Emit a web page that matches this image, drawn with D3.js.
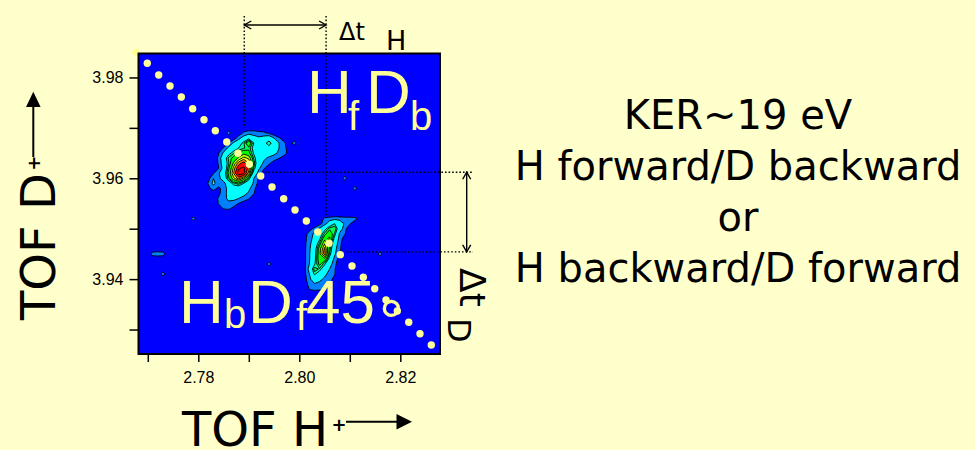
<!DOCTYPE html>
<html>
<head>
<meta charset="utf-8">
<script src="https://cdn.jsdelivr.net/npm/d3@7/dist/d3.min.js"></script>
<style>
  html, body { margin: 0; padding: 0; background: #FFFFCC; }
  svg { display: block; }
</style>
</head>
<body>
<svg id="chart" width="975" height="450"></svg>
<script>
// ---- axes ----
const xDomain = [2.76816, 2.82786];
const yDomain = [3.92515, 3.98475];
const xTicks = [2.77, 2.78, 2.79, 2.80, 2.81, 2.82];
const xTickLabels = ["", "2.78", "", "2.80", "", "2.82"];
const yTicks = [3.93, 3.94, 3.95, 3.96, 3.97, 3.98];
const yTickLabels = ["", "3.94", "", "3.96", "", "3.98"];

// ---- coincidence map, sampled on a 0.001 x 0.001 grid ----
const gridX0 = 2.768, gridY0 = 3.925, gridStep = 0.001, gridN = 61;
const levels = [1, 2, 4, 4.6, 5.2, 6.3, 7.2, 8, 9, 10.2];
const levelColors = ["#0080FF", "#00FFFF", "#00FFAA", "#00FF55", "#00FF00",
                     "#AAFF00", "#FFFF00", "#FF8000", "#FF0000", "#F40000"];

// island H forward / D backward: first column x = 2.781, first row y = 3.970 (rows go down)
const island1X0 = 2.781, island1YTop = 3.970;
const island1 = [
  [0,0,0,0,0,0,0,0,0.2,0.3,0.3,0.2,0.2,0,0,0,0,0,0],
  [0,0,0,0,0,0,0,0.3,1.2,1.5,1.5,1.3,1.2,0.8,0.2,0,0,0,0],
  [0,0,0,0,0,0,0.4,1.6,2.5,3.5,2.5,2.2,2.5,3,2,1.1,0.4,0,0],
  [0,0,0,0,0,0.95,2.2,3,4.5,6.2,4,2.6,3.5,4.6,3.2,2,1.2,0.3,0],
  [0,0,0,0.2,1.1,2.3,3.2,4,4.5,5,3.5,2.5,2.8,3.5,2.7,2,1.3,0.5,0],
  [0,0,0.2,0.9,2.2,3.5,4.5,5.5,6,5.5,3.8,2.5,2.4,2.6,2.3,1.8,1.5,0.5,0],
  [0,0,0.3,1.2,3,4.8,5.5,6.5,7.5,7,4.5,2.8,2.2,1.8,1.5,1.05,0.4,0,0],
  [0,0,0.2,1.1,2.8,4.5,6.5,8.5,9.5,8,5,2.6,1.8,1.2,0.5,0,0,0,0],
  [0,0,0.3,0.9,2.5,5,7.5,10,10.5,8.5,4.5,2.2,1.1,0.4,0,0,0,0,0],
  [0,0.1,0.9,1.8,3,5.5,8,11,10.5,7.5,3,1.5,0.4,0,0,0,0,0,0],
  [0.1,0.6,2,1.6,2.8,5,7,8.5,7,4.5,2,0.8,0,0,0,0,0,0,0],
  [0.1,1.1,2.3,1.4,1.5,3,4.5,5,4,3,1.8,0.6,0,0,0,0,0,0,0],
  [0,0.7,1.5,0.8,1.3,2.5,3,3,2.8,2.3,1.3,0.3,0,0,0,0,0,0,0],
  [0,0,0.3,0.7,1.6,2.3,2.6,2.5,2.4,1.8,1.05,0.2,0,0,0,0,0,0,0],
  [0,0,0.4,1.1,1.7,2.2,2.3,2,1.6,1.1,0.3,0,0,0,0,0,0,0,0],
  [0,0,0.2,1.05,1.5,1.8,1.5,0.95,0.5,0.2,0,0,0,0,0,0,0,0,0],
  [0,0,0,0.4,1.1,1.2,0.7,0.3,0,0,0,0,0,0,0,0,0,0,0]
];

// island H backward / D forward: first column x = 2.801, first row y = 3.952
const island2X0 = 2.801, island2YTop = 3.952;
const island2 = [
  [0,0,0,0.3,1.2,1.4,1.6,1.5,1.4,1.4,1.3,0.7],
  [0,0,0,0.6,1.5,2.8,4,3,1.8,1.1,0.4,0],
  [0,0.5,1.3,2.2,3.5,5,5.2,2.8,1.3,0.3,0,0],
  [0.4,1.5,2.2,3,4.8,6,4.5,1.8,1.1,0.2,0,0],
  [0.6,1.6,2.4,3.8,6,6.5,3.5,1.5,0.5,0,0,0],
  [0.7,1.7,2.8,4.8,7.2,5.5,2.8,1.3,0.3,0,0,0],
  [0.7,1.8,3.2,5.8,8.3,5,2.4,1.2,0.2,0,0,0],
  [0.7,1.9,3.3,6,8.5,4.5,2.2,1.1,0.2,0,0,0],
  [0.7,1.9,3.5,6,6,3.5,1.6,0.5,0,0,0,0],
  [0.7,2,3.8,5.5,4.2,2.6,1.3,0.3,0,0,0,0],
  [0.7,2.5,5,4.5,3,2,1.1,0.2,0,0,0,0],
  [0.6,2,4.2,3.2,2.3,1.6,1.05,0.1,0,0,0,0],
  [0.5,1.8,2.6,2.3,1.8,1.3,0.7,0,0,0,0,0],
  [0.3,1.4,1.9,1.7,1.4,1.1,0.3,0,0,0,0,0],
  [0,1.05,1.3,1.2,1.1,0.6,0,0,0,0,0,0]
];

// isolated single-bin events
const eventX = [2.786, 2.799, 2.779, 2.794, 2.773, 2.809, 2.811, 2.816, 2.771, 2.772, 2.773];
const eventY = [3.969, 3.967, 3.952, 3.943, 3.941, 3.960, 3.958, 3.945, 3.945, 3.945, 3.945];
const eventV = [1.6, 1.6, 1.6, 1.6, 1.6, 1.6, 1.6, 1.6, 1.6, 1.7, 1.6];

// constant total-momentum line (TOF_H + TOF_D)
const lineX = [2.76761, 2.76990, 2.77216, 2.77440, 2.77664, 2.77889, 2.78113, 2.78337, 2.78563,
               2.78786, 2.79010, 2.79236, 2.79460, 2.79691, 2.79915, 2.80139, 2.80365, 2.80588,
               2.80812, 2.81044, 2.81268, 2.81493, 2.81717, 2.81941, 2.82167, 2.82390, 2.82614];
const lineY = [3.98499, 3.98281, 3.98049, 3.97830, 3.97612, 3.97380, 3.97162, 3.96944, 3.96720,
               3.96496, 3.96278, 3.96045, 3.95827, 3.95595, 3.95371, 3.95153, 3.94935, 3.94711,
               3.94485, 3.94260, 3.94036, 3.93810, 3.93586, 3.93368, 3.93144, 3.92918, 3.92694];

// Δt markers
const markH = [2.7891, 2.8053];        // TOF H+ of the two islands
const markHEnd = [3.9702, 3.9523];     // where the vertical guides stop
const markD = [3.9612, 3.9454];        // TOF D+ of the two islands
const markDStart = [2.7932, 2.8094];   // where the horizontal guides start

const rightText = ["KER~19 eV", "H forward/D backward", "or", "H backward/D forward"];

// ---- drawing ----
const svg = d3.select("#chart");
const W = 975, H = 450;
const plot = { left: 138.5, right: 440, top: 53.5, bottom: 354 };
const pale = "#FFFF99";
const handFont = "'DejaVu Sans', sans-serif";
const axisFont = "'Liberation Sans', Arial, sans-serif";

svg.append("rect").attr("width", W).attr("height", H).attr("fill", "#FFFFCC");

const x = d3.scaleLinear().domain(xDomain).range([plot.left, plot.right]);
const y = d3.scaleLinear().domain(yDomain).range([plot.bottom, plot.top]);

svg.append("defs").append("clipPath").attr("id", "plotClip")
  .append("rect").attr("x", plot.left).attr("y", plot.top)
  .attr("width", plot.right - plot.left).attr("height", plot.bottom - plot.top);

svg.append("rect")
  .attr("x", plot.left).attr("y", plot.top)
  .attr("width", plot.right - plot.left).attr("height", plot.bottom - plot.top)
  .attr("fill", "#0000FF");

// build the full grid (row 0 = top)
const values = new Array(gridN * gridN).fill(0);
function addAt(xv, yv, v) {
  const i = Math.round((xv - gridX0) / gridStep);
  const j = Math.round((yv - gridY0) / gridStep);
  const r = gridN - 1 - j;
  if (i >= 0 && i < gridN && r >= 0 && r < gridN) values[r * gridN + i] += v;
}
function addIsland(m, x0, yTop) {
  m.forEach((row, k) => row.forEach((v, c) => {
    addAt(x0 + c * gridStep, yTop - k * gridStep, v);
  }));
}
addIsland(island1, island1X0, island1YTop);
addIsland(island2, island2X0, island2YTop);
eventX.forEach((xv, k) => addAt(xv, eventY[k], eventV[k]));

const contours = d3.contours().size([gridN, gridN]).thresholds(levels)(values);
const gridProj = d3.geoTransform({
  point(cx, cy) {
    const gi = cx - 0.5, gr = cy - 0.5;
    this.stream.point(x(gridX0 + gi * gridStep), y(gridY0 + (gridN - 1 - gr) * gridStep));
  }
});
const cpath = d3.geoPath(gridProj);

svg.append("g").attr("clip-path", "url(#plotClip)")
  .selectAll("path").data(contours).join("path")
  .attr("d", cpath)
  .attr("fill", (d, k) => levelColors[k])
  .attr("stroke", "#000")
  .attr("stroke-width", 0.9)
  .attr("stroke-linejoin", "round");

// dotted Δt guides
const guides = svg.append("g").attr("stroke", "#000").attr("stroke-width", 1.4)
  .attr("stroke-dasharray", "1.6,2");
markH.forEach((m, k) => {
  guides.append("line").attr("x1", x(m)).attr("x2", x(m))
    .attr("y1", 16).attr("y2", y(markHEnd[k]));
});
markD.forEach((m, k) => {
  guides.append("line").attr("x1", x(markDStart[k])).attr("x2", 473)
    .attr("y1", y(m)).attr("y2", y(m));
});

// double arrows
function chevron(g, tx, ty, dx, dy) {
  // open arrow head pointing along (dx,dy)
  const L = 7, Wd = 4;
  const px = -dy, py = dx;
  g.append("path")
    .attr("d", `M${tx - dx * L + px * Wd},${ty - dy * L + py * Wd}L${tx},${ty}L${tx - dx * L - px * Wd},${ty - dy * L - py * Wd}`)
    .attr("fill", "none").attr("stroke", "#000").attr("stroke-width", 1.4);
}
const arr = svg.append("g");
const ax1 = x(markH[0]), ax2 = x(markH[1]);
arr.append("line").attr("x1", ax1).attr("x2", ax2).attr("y1", 25).attr("y2", 25)
  .attr("stroke", "#000").attr("stroke-width", 1.4);
chevron(arr, ax1, 25, -1, 0);
chevron(arr, ax2, 25, 1, 0);
const ay1 = y(markD[0]), ay2 = y(markD[1]);
arr.append("line").attr("x1", 466.7).attr("x2", 466.7).attr("y1", ay1).attr("y2", ay2)
  .attr("stroke", "#000").attr("stroke-width", 1.4);
chevron(arr, 466.7, ay1, 0, -1);
chevron(arr, 466.7, ay2, 0, 1);

// momentum line dots
svg.append("g").selectAll("circle").data(lineX).join("circle")
  .attr("cx", d => x(d)).attr("cy", (d, k) => y(lineY[k]))
  .attr("r", 3.7).attr("fill", pale);

// labels inside the map
const inPlot = svg.append("g").attr("fill", pale).attr("font-family", axisFont);
function piece(t, px, py, size) {
  inPlot.append("text").attr("x", px).attr("y", py).attr("font-size", size).text(t);
}
piece("H", 307, 113, 62); piece("f", 348, 130, 40);
piece("D", 366, 113, 62); piece("b", 410, 130, 40);
piece("H", 179, 323, 62); piece("b", 224, 328, 40);
piece("D", 248, 323, 62); piece("f", 296, 330, 40);
piece("45", 306, 323, 62); piece("°", 379, 343, 62);

// frame
svg.append("rect")
  .attr("x", plot.left).attr("y", plot.top)
  .attr("width", plot.right - plot.left).attr("height", plot.bottom - plot.top)
  .attr("fill", "none").attr("stroke", "#000").attr("stroke-width", 2);

// axes
const xAxis = svg.append("g").attr("transform", `translate(0,${plot.bottom})`)
  .call(d3.axisBottom(x).tickValues(xTicks).tickFormat((d, k) => xTickLabels[k])
    .tickSize(8).tickPadding(10));
const yAxis = svg.append("g").attr("transform", `translate(${plot.left},0)`)
  .call(d3.axisLeft(y).tickValues(yTicks).tickFormat((d, k) => yTickLabels[k])
    .tickSize(9).tickPadding(6));
[xAxis, yAxis].forEach(g => {
  g.select(".domain").remove();
  g.selectAll(".tick line").attr("stroke", "#000").attr("stroke-width", 1.5);
  g.selectAll(".tick text").attr("font-family", axisFont).attr("font-size", 16).attr("fill", "#000");
});

// axis titles
const hand = svg.append("g").attr("font-family", handFont).attr("fill", "#000");
hand.append("text").attr("x", 182).attr("y", 446).attr("font-size", 48).text("TOF H");
hand.append("text").attr("x", 339).attr("y", 431).attr("font-size", 18)
  .attr("font-weight", "bold").attr("text-anchor", "middle").text("+");
hand.append("line").attr("x1", 346).attr("x2", 398).attr("y1", 421.7).attr("y2", 421.7)
  .attr("stroke", "#000").attr("stroke-width", 2);
hand.append("path").attr("d", "M396.5,414L412,421.7L396.5,429.4Z").attr("fill", "#000");

hand.append("text").attr("transform", "translate(55,320) rotate(-90)")
  .attr("font-size", 48).text("TOF D");
hand.append("text").attr("transform", "translate(39.5,163.3) rotate(-90)")
  .attr("font-size", 18).attr("font-weight", "bold").attr("text-anchor", "middle").text("+");
hand.append("line").attr("x1", 33.3).attr("x2", 33.3).attr("y1", 157).attr("y2", 105)
  .attr("stroke", "#000").attr("stroke-width", 2);
hand.append("path").attr("d", "M26,107L33.3,91.7L40.6,107Z").attr("fill", "#000");

// Δt labels
hand.append("text").attr("x", 339).attr("y", 40).attr("font-size", 24).text("Δt");
hand.append("text").attr("x", 386).attr("y", 50).attr("font-size", 27).text("H");
const dtD = hand.append("g").attr("transform", "translate(460,268) rotate(90)");
dtD.append("text").attr("x", 0).attr("y", 0).attr("font-size", 36).text("Δt");
dtD.append("text").attr("x", 50).attr("y", 12).attr("font-size", 32).text("D");

// description
rightText.forEach((t, k) => {
  hand.append("text").attr("x", 738).attr("y", 129 + k * 51)
    .attr("text-anchor", "middle").attr("font-size", 40).text(t);
});
</script>
</body>
</html>
